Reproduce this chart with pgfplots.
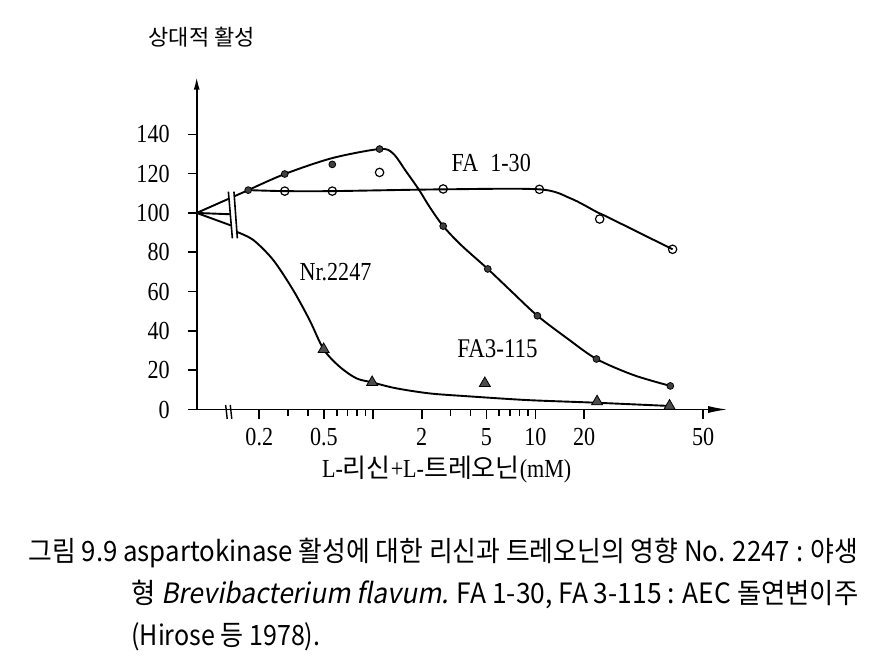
\documentclass[border=0pt]{standalone}
\usepackage{pgfplots}
\pgfplotsset{compat=1.18}
\usetikzlibrary{arrows.meta}
\usepackage{graphicx}
\usepackage{fontspec}
\setmainfont{Liberation Serif}[FakeStretch=0.85]
\newfontfamily\kr{Noto Sans CJK KR}
\newfontfamily\capf{Noto Sans CJK KR}
\newfontfamily\capfit{Noto Sans CJK KR}[FakeSlant=0.2]

\begin{document}
\begin{tikzpicture}
\begin{axis}[
  at={(98.35pt,122.75pt)}, anchor=south west,
  scale only axis, width=265.65pt, height=166.4pt,
  xmode=log, xmin=0.0824, xmax=153.5, ymin=0, ymax=169.3,
  axis lines=left,
  x axis line style={line width=0.9pt, -{Latex[length=10pt,width=3.6pt]}},
  y axis line style={line width=0.9pt, -{Latex[length=6.5pt,width=3pt]}},
  xtick={0.2,0.5,1,2,5,10,20,108},
  xticklabels={0.2,0.5,,2,5,10,20,50},
  minor xtick={0.3,0.4,0.6,0.7,0.8,0.9,3,4,6,7,8,9},
  ytick={0,20,...,140},
  tick align=outside,
  major tick length=4.5pt, minor tick length=3.3pt,
  tick style={black, line width=0.8pt},
  /pgf/number format/assume math mode=true,
  tick label style={font=\fontsize{13}{13}\selectfont},
  xticklabel style={yshift=-1.5pt},
  yticklabel style={xshift=-5.5pt},
  clip=false,
]
% fan lines from the control (0 mM) at 100 %
\addplot[line width=0.95pt, no marks] coordinates {(0.0824,100) (0.171,111.6)};
\addplot[line width=0.95pt, no marks] coordinates {(0.0824,100) (0.1345,99.3)};
\addplot[line width=0.95pt, no marks] coordinates {(0.0824,100) (0.1352,93.5)};
% FA3-115 curve (filled circles)
\addplot[line width=0.95pt, no marks, smooth] coordinates {
 (0.171,111.6) (0.287,119.8) (0.563,127.9) (1.10,132.5) (1.33,130.3) (1.60,121.2)
 (1.93,111.6) (2.23,103.2) (2.71,93.3) (3.50,83.6) (5.1,71.5) (7.23,59.6)
 (10.3,47.7) (15.7,36.2) (23.8,25.7) (40.3,17.5) (67.8,12.0)};
% FA 1-30 curve (open circles)
\addplot[line width=0.95pt, no marks, smooth] coordinates {
 (0.171,111.6) (0.287,111.1) (0.563,111.1) (2.71,112.0) (10.6,112.0)
 (16.5,107.4) (24.0,100.4) (27.7,98.0) (70,81.5)};
% Nr.2247 curve (triangles)
\addplot[line width=0.95pt, no marks, smooth] coordinates {
 (0.145,90.4) (0.184,86.2) (0.244,76.0) (0.323,60.8) (0.408,45.5) (0.498,30.6)
 (0.624,21.8) (0.791,15.9) (0.99,13.8) (1.39,10.8) (2.23,8.2) (3.74,6.8)
 (8.93,4.8) (22.9,3.5) (67,1.8)};
% marks
\addplot[only marks, mark=*, mark size=1.7pt, draw=black, fill=black!75] coordinates {
 (0.171,111.6) (0.287,119.8) (0.563,124.7) (1.10,132.5) (2.71,93.3) (5.1,71.5)
 (10.3,47.7) (23.8,25.7) (67.8,12.0)};
\addplot[only marks, mark=o, mark size=2.1pt, mark options={line width=0.6pt, fill=white}, draw=black] coordinates {
 (0.287,111.1) (0.563,111.1) (1.10,120.6) (2.71,112.2) (10.6,112.0) (24.9,96.9) (70,81.5)};
\addplot[only marks, mark=triangle*, mark size=3.2pt, draw=black, fill=black!70] coordinates {
 (0.498,30.6) (0.99,13.8) (4.89,13.3) (24,4.0) (67,1.8)};
% axis breaks
\fill[white] (axis cs:0.1291,110.8) -- (axis cs:0.1397,110.8) -- (axis cs:0.1466,87.1) -- (axis cs:0.1366,87.1) -- cycle;
\draw[line width=0.8pt] (axis cs:0.1291,110.8) -- (axis cs:0.1366,87.1);
\draw[line width=0.8pt] (axis cs:0.1397,110.8) -- (axis cs:0.1466,87.1);
\draw[line width=0.7pt] (axis cs:0.1242,2.3) -- (axis cs:0.1270,-4.8);
\draw[line width=0.7pt] (axis cs:0.1326,2.3) -- (axis cs:0.1355,-4.8);
% labels
\node[font=\fontsize{13}{13}\selectfont] at (axis cs:5.36,125.6) {FA\hspace{6pt}1-30};
\node[font=\fontsize{13}{13}\selectfont] at (axis cs:0.589,69.7) {Nr.2247};
\node[font=\fontsize{13.5}{13.5}\selectfont] at (axis cs:5.85,31.1) {FA3-115};
\end{axis}
% axis titles
\node[anchor=base, inner sep=0] at (100.85pt,305pt) {\kr\fontsize{11}{11}\selectfont 상대적 활성};
\node[anchor=base, inner sep=0] at (223.35pt,88.85pt) {\fontsize{13}{13}\selectfont L-{\kr 리신}+L-{\kr 트레오닌}(mM)};
% caption
\node[anchor=base west, inner sep=0] at (14pt,47pt) {\resizebox{415pt}{\height}{\capf\fontsize{14}{14}\selectfont 그림 9.9 aspartokinase 활성에 대한 리신과 트레오닌의 영향 No. 2247 : 야생}};
\node[anchor=base west, inner sep=0] at (65.5pt,26pt) {\resizebox{363.5pt}{\height}{\capf\fontsize{14}{14}\selectfont 형 {\capfit Brevibacterium flavum.} FA 1-30, FA 3-115 : AEC 돌연변이주}};
\node[anchor=base west, inner sep=0] at (65.5pt,5pt) {\resizebox{94.5pt}{\height}{\capf\fontsize{14}{14}\selectfont (Hirose 등 1978).}};
\pgfresetboundingbox
\useasboundingbox (0,0) rectangle (438.5pt,327.5pt);
\end{tikzpicture}
\end{document}
